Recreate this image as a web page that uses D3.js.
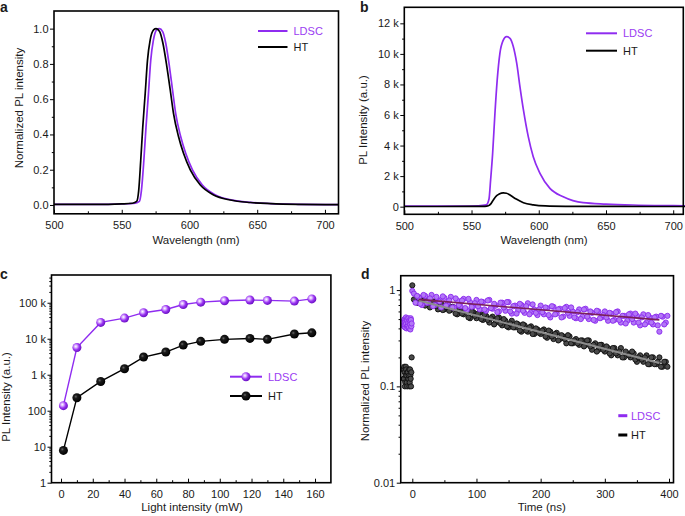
<!DOCTYPE html>
<html>
<head>
<meta charset="utf-8">
<script src="https://cdn.jsdelivr.net/npm/d3@7"></script>
<style>
  body { margin: 0; background: #fff; }
  text { font-family: "Liberation Sans", Arial, sans-serif; fill: #1a1a1a; }
</style>
</head>
<body>
<svg id="fig" width="685" height="516"></svg>
<script>
// ---- panel a: normalized spectra ----
const wlLdscA = [500, 540, 555, 560, 563, 564.5, 566.3, 567.9, 569.7, 571.4, 573.4, 575.8, 577.8, 580.2, 582.5, 585.2, 587.5, 589.8, 593.5, 597.2, 602.2, 609.5, 619.2, 631.5, 645, 660, 680, 710];
const normLdsc = [0.003, 0.004, 0.007, 0.01, 0.02, 0.08, 0.25, 0.44, 0.63, 0.82, 0.936, 0.993, 1.0, 0.983, 0.917, 0.785, 0.652, 0.52, 0.388, 0.293, 0.199, 0.113, 0.057, 0.028, 0.015, 0.008, 0.004, 0.002];
const wlHtA = [500, 540, 550, 558, 561, 562.5, 564, 565.5, 567.3, 569, 571, 573.5, 575.4, 578, 580.4, 583.3, 585.8, 588.2, 591.9, 595.6, 600.6, 608, 617.8, 630, 645, 660, 680, 710];
const normHt = [0.003, 0.004, 0.006, 0.01, 0.02, 0.08, 0.25, 0.44, 0.63, 0.82, 0.936, 0.993, 1.0, 0.983, 0.917, 0.785, 0.652, 0.52, 0.388, 0.293, 0.199, 0.113, 0.057, 0.028, 0.014, 0.008, 0.004, 0.002];

// ---- panel b: raw spectra ----
const wlLdscB = [500, 540, 555, 561, 563, 564.2, 565.7, 567.4, 569.1, 571.1, 573.6, 576, 578.6, 581, 583.6, 586, 588.6, 592.2, 595.9, 600.9, 608.3, 618.2, 633, 650, 670, 700, 710];
const plLdsc = [30, 40, 60, 120, 500, 1750, 3490, 6100, 8300, 10040, 10900, 11130, 11020, 10500, 9390, 7860, 6330, 4580, 3270, 2180, 1200, 650, 260, 170, 110, 70, 60];
const wlHtB = [500, 550, 560, 562.5, 564.5, 566.2, 568.7, 570.6, 573.6, 576, 578.6, 581, 583.6, 588.6, 595.9, 605, 620, 650, 710];
const plHt = [10, 15, 25, 60, 200, 440, 720, 830, 900, 880, 760, 620, 480, 260, 120, 50, 25, 15, 10];

// ---- panel c: power dependence ----
const power = [1.5, 10, 25, 40, 52, 66, 77, 88, 103, 119, 130, 147, 158];
const powLdsc = [138, 5700, 28400, 37500, 52900, 65000, 89600, 104000, 114000, 119000, 116000, 111000, 128000];
const powHt = [7.9, 230, 650, 1470, 3100, 4270, 6650, 8450, 9600, 10200, 9600, 13500, 14600];

// ---- panel d: decay ----
const tPre = [-14, -13.5, -13, -12.5, -12, -11.5, -11, -10.5, -10, -9.5, -9, -8.5, -8, -7.5, -7, -6.5, -6, -5.5, -5, -4.5, -4, -3.5, -3, -2.5, -2, -1.5, -1];
const ldscPre = [0.47, 0.43, 0.42, 0.49, 0.50, 0.41, 0.44, 0.47, 0.52, 0.45, 0.40, 0.50, 0.48, 0.42, 0.43, 0.46, 0.51, 0.40, 0.41, 0.48, 0.46, 0.44, 0.39, 0.51, 0.49, 0.42, 0.45];
const htPre = [0.15, 0.12, 0.12, 0.16, 0.14, 0.10, 0.11, 0.13, 0.16, 0.15, 0.13, 0.11, 0.10, 0.14, 0.14, 0.12, 0.12, 0.13, 0.15, 0.10, 0.11, 0.15, 0.13, 0.12, 0.10, 0.14, 0.20];
const tMain = [0, 5, 10, 15, 20, 25, 30, 35, 40, 45, 50, 55, 60, 65, 70, 75, 80, 85, 90, 95,
  100, 105, 110, 115, 120, 125, 130, 135, 140, 145, 150, 155, 160, 165, 170, 175, 180, 185, 190, 195,
  200, 205, 210, 215, 220, 225, 230, 235, 240, 245, 250, 255, 260, 265, 270, 275, 280, 285, 290, 295,
  300, 305, 310, 315, 320, 325, 330, 335, 340, 345, 350, 355, 360, 365, 370, 375, 380, 385, 390, 395];
const ldscMain = [0.98, 0.74, 0.84, 0.70, 0.87, 0.74, 0.89, 0.70, 0.79, 0.66,
  0.83, 0.73, 0.85, 0.66, 0.78, 0.68, 0.81, 0.62, 0.75, 0.68,
  0.79, 0.63, 0.75, 0.61, 0.79, 0.64, 0.69, 0.60, 0.74, 0.61,
  0.75, 0.57, 0.69, 0.62, 0.70, 0.58, 0.73, 0.59, 0.63, 0.55,
  0.69, 0.56, 0.65, 0.52, 0.67, 0.57, 0.64, 0.53, 0.67, 0.54,
  0.60, 0.51, 0.63, 0.53, 0.64, 0.50, 0.58, 0.48, 0.60, 0.52,
  0.60, 0.48, 0.57, 0.49, 0.60, 0.46, 0.54, 0.48, 0.57, 0.46,
  0.54, 0.43, 0.56, 0.46, 0.52, 0.44, 0.53, 0.37, 0.53, 0.46];
const htMain = [1.12, 0.78, 0.74, 0.83, 0.69, 0.76, 0.69, 0.76, 0.63, 0.72,
  0.63, 0.72, 0.62, 0.66, 0.56, 0.65, 0.56, 0.60, 0.51, 0.59,
  0.51, 0.58, 0.49, 0.54, 0.46, 0.53, 0.46, 0.52, 0.43, 0.48,
  0.41, 0.48, 0.41, 0.44, 0.37, 0.43, 0.37, 0.42, 0.35, 0.39,
  0.35, 0.39, 0.32, 0.37, 0.31, 0.36, 0.31, 0.33, 0.28, 0.33,
  0.28, 0.31, 0.27, 0.30, 0.27, 0.30, 0.24, 0.28, 0.24, 0.27,
  0.23, 0.25, 0.21, 0.25, 0.21, 0.25, 0.20, 0.22, 0.20, 0.22,
  0.18, 0.21, 0.18, 0.21, 0.17, 0.20, 0.17, 0.20, 0.16, 0.18];
const tHalf = [2.5, 7.5, 12.5, 17.5, 22.5, 27.5, 32.5, 37.5, 42.5, 47.5, 52.5, 57.5, 62.5, 67.5, 72.5, 77.5, 82.5, 87.5, 92.5, 97.5,
  102.5, 107.5, 112.5, 117.5, 122.5, 127.5, 132.5, 137.5, 142.5, 147.5, 152.5, 157.5, 162.5, 167.5, 172.5, 177.5, 182.5, 187.5, 192.5, 197.5,
  202.5, 207.5, 212.5, 217.5, 222.5, 227.5, 232.5, 237.5, 242.5, 247.5, 252.5, 257.5, 262.5, 267.5, 272.5, 277.5, 282.5, 287.5, 292.5, 297.5,
  302.5, 307.5, 312.5, 317.5, 322.5, 327.5, 332.5, 337.5, 342.5, 347.5, 352.5, 357.5, 362.5, 367.5, 372.5, 377.5, 382.5, 387.5, 392.5, 397.5];
const ldscHalf = [0.92, 0.87, 0.72, 0.89, 0.74, 0.82, 0.68, 0.85, 0.76, 0.86,
  0.69, 0.78, 0.66, 0.82, 0.70, 0.78, 0.65, 0.81, 0.67, 0.73,
  0.68, 0.76, 0.63, 0.78, 0.65, 0.72, 0.59, 0.74, 0.66, 0.75,
  0.60, 0.68, 0.57, 0.72, 0.61, 0.68, 0.56, 0.71, 0.58, 0.63,
  0.59, 0.66, 0.55, 0.68, 0.56, 0.63, 0.52, 0.65, 0.58, 0.66,
  0.52, 0.59, 0.50, 0.63, 0.53, 0.60, 0.49, 0.61, 0.51, 0.55,
  0.52, 0.58, 0.48, 0.59, 0.49, 0.54, 0.45, 0.56, 0.50, 0.57,
  0.46, 0.52, 0.44, 0.55, 0.46, 0.52, 0.43, 0.54, 0.44, 0.54];
const htHalf = [0.80, 0.74, 0.83, 0.73, 0.77, 0.66, 0.76, 0.68, 0.75, 0.62,
  0.67, 0.61, 0.67, 0.57, 0.66, 0.57, 0.61, 0.52, 0.60, 0.54,
  0.57, 0.50, 0.56, 0.49, 0.51, 0.44, 0.51, 0.45, 0.50, 0.42,
  0.45, 0.41, 0.45, 0.38, 0.44, 0.38, 0.41, 0.35, 0.40, 0.36,
  0.38, 0.33, 0.38, 0.33, 0.35, 0.30, 0.34, 0.31, 0.34, 0.28,
  0.30, 0.28, 0.30, 0.26, 0.30, 0.26, 0.27, 0.23, 0.27, 0.24,
  0.26, 0.22, 0.25, 0.22, 0.23, 0.20, 0.23, 0.21, 0.23, 0.19,
  0.20, 0.19, 0.20, 0.17, 0.20, 0.17, 0.18, 0.16, 0.18, 0.16];
const fitT = [10, 385];
const ldscFit = [0.80, 0.49];
const htFit = [0.78, 0.175];

const PURPLE = "#8f2cf0";
const PURPLE_TXT = "#9a3cf2";

const svg = d3.select("#fig");

// box around a plot area
function frame(x, y) {
  const [x0, x1] = x.range(), [yb, yt] = y.range();
  svg.append("rect")
    .attr("x", x0).attr("y", yt).attr("width", x1 - x0).attr("height", yb - yt)
    .attr("fill", "none").attr("stroke", "#000").attr("stroke-width", 1.6);
}

function styleAxis(g) {
  g.select(".domain").remove();
  g.selectAll("line").attr("stroke", "#000").attr("stroke-width", 1);
  g.selectAll("text").attr("font-size", 11).attr("fill", "#1a1a1a")
    .attr("font-family", "Liberation Sans, Arial, sans-serif");
}

function xAxis(x, y, majors, minors, fmt) {
  const yb = y.range()[0];
  svg.append("g").attr("transform", `translate(0,${yb})`)
    .call(d3.axisBottom(x).tickValues(minors).tickSize(-2.5).tickFormat(""))
    .call(styleAxis);
  svg.append("g").attr("transform", `translate(0,${yb})`)
    .call(d3.axisBottom(x).tickValues(majors).tickSize(-4).tickPadding(7.5).tickFormat(fmt))
    .call(styleAxis);
}

function yAxis(x, y, majors, minors, fmt) {
  const xl = x.range()[0];
  svg.append("g").attr("transform", `translate(${xl},0)`)
    .call(d3.axisLeft(y).tickValues(minors).tickSize(2.2).tickFormat(""))
    .call(styleAxis);
  svg.append("g").attr("transform", `translate(${xl},0)`)
    .call(d3.axisLeft(y).tickValues(majors).tickSize(4).tickPadding(1.5).tickFormat(fmt))
    .call(styleAxis);
}

function label(txt, x, y, rot) {
  svg.append("text")
    .attr("transform", `translate(${x},${y})` + (rot ? " rotate(-90)" : ""))
    .attr("text-anchor", "middle").attr("dy", rot ? "0.35em" : 0)
    .attr("font-size", 11.5).text(txt);
}

function letter(txt, x, y) {
  svg.append("text").attr("x", x).attr("y", y).attr("font-size", 14)
    .attr("font-weight", "bold").attr("fill", "#000").text(txt);
}

function lineLegend(x0, x1, y, color, txt, txtColor) {
  svg.append("line").attr("x1", x0).attr("x2", x1).attr("y1", y).attr("y2", y)
    .attr("stroke", color).attr("stroke-width", 2);
  svg.append("text").attr("x", x1 + 6).attr("y", y).attr("dy", "0.35em")
    .attr("font-size", 11).style("fill", txtColor).text(txt);
}

// ================= panel a =================
{
  const x = d3.scaleLinear().domain([500, 710]).range([54, 338.5]);
  const y = d3.scaleLinear().domain([-0.05, 1.1]).range([213.8, 11]);
  const line = d3.line().x(d => x(d[0])).y(d => y(d[1])).curve(d3.curveMonotoneX);
  svg.append("path").datum(d3.zip(wlLdscA, normLdsc)).attr("d", line)
    .attr("fill", "none").attr("stroke", PURPLE).attr("stroke-width", 1.7);
  svg.append("path").datum(d3.zip(wlHtA, normHt)).attr("d", line)
    .attr("fill", "none").attr("stroke", "#000").attr("stroke-width", 1.7);
  frame(x, y);
  xAxis(x, y, [500, 550, 600, 650, 700], [525, 575, 625, 675], d3.format("d"));
  yAxis(x, y, [0, 0.2, 0.4, 0.6, 0.8, 1.0], [0.1, 0.3, 0.5, 0.7, 0.9], d3.format(".1f"));
  label("Wavelength (nm)", 196, 244, false);
  label("Normalized PL intensity", 19, 108, true);
  letter("a", 0, 12);
  lineLegend(258, 287.5, 31, PURPLE, "LDSC", PURPLE_TXT);
  lineLegend(258, 287.5, 47, "#000", "HT", "#1a1a1a");
}

// ================= panel b =================
{
  const x = d3.scaleLinear().domain([500, 707.5]).range([404.3, 683.3]);
  const y = d3.scaleLinear().domain([-500, 13050]).range([214.3, 7.3]);
  const line = d3.line().x(d => x(d[0])).y(d => y(d[1])).curve(d3.curveMonotoneX);
  svg.append("path").datum(d3.zip(wlLdscB, plLdsc)).attr("d", line)
    .attr("fill", "none").attr("stroke", PURPLE).attr("stroke-width", 1.7);
  svg.append("path").datum(d3.zip(wlHtB, plHt)).attr("d", line)
    .attr("fill", "none").attr("stroke", "#000").attr("stroke-width", 1.7);
  frame(x, y);
  xAxis(x, y, [500, 550, 600, 650, 700], [525, 575, 625, 675], d3.format("d"));
  yAxis(x, y, [0, 2000, 4000, 6000, 8000, 10000, 12000], [1000, 3000, 5000, 7000, 9000, 11000],
    d => d === 0 ? "0" : (d / 1000) + " k");
  label("Wavelength (nm)", 544, 244, false);
  label("PL Intensity (a.u.)", 363, 120, true);
  letter("b", 360, 12);
  lineLegend(586, 617, 33.3, PURPLE, "LDSC", PURPLE_TXT);
  lineLegend(586, 617, 50.7, "#000", "HT", "#1a1a1a");
}

// sphere gradients for panel c
const defs = svg.append("defs");
function sphere(id, stops) {
  const g = defs.append("radialGradient").attr("id", id)
    .attr("cx", "38%").attr("cy", "38%").attr("r", "62%");
  stops.forEach(s => g.append("stop").attr("offset", s[0]).attr("stop-color", s[1]));
}
sphere("gPur", [["0%", "#ffffff"], ["25%", "#dcb4ff"], ["60%", "#9a35f2"], ["100%", "#6c12c4"]]);
sphere("gBlk", [["0%", "#6a6a6a"], ["30%", "#1c1c1c"], ["100%", "#000000"]]);

// ================= panel c =================
{
  const x = d3.scaleLinear().domain([-6, 170]).range([51.5, 330.9]);
  const y = d3.scaleLog().domain([1, 5.9e5]).range([482.7, 275]);
  const line = d3.line().x(d => x(d[0])).y(d => y(d[1]));
  const series = [
    { v: powHt, c: "#000", f: "url(#gBlk)" },
    { v: powLdsc, c: PURPLE, f: "url(#gPur)" }
  ];
  series.forEach(s => {
    const pts = d3.zip(power, s.v);
    svg.append("path").datum(pts).attr("d", line)
      .attr("fill", "none").attr("stroke", s.c).attr("stroke-width", 1.4);
    svg.append("g").selectAll("circle").data(pts).join("circle")
      .attr("cx", d => x(d[0])).attr("cy", d => y(d[1])).attr("r", 4.5)
      .attr("fill", s.f);
  });
  frame(x, y);
  xAxis(x, y, [0, 20, 40, 60, 80, 100, 120, 140, 160], [10, 30, 50, 70, 90, 110, 130, 150], d3.format("d"));
  const decades = [1, 10, 100, 1000, 10000, 100000];
  const minors = [];
  decades.forEach(d => { for (let k = 2; k <= 9; k++) if (d * k < 5.9e5) minors.push(d * k); });
  yAxis(x, y, decades, minors, d => d >= 1000 ? (d / 1000) + " k" : String(d));
  label("Light intensity (mW)", 192, 511, false);
  label("PL Intensity (a.u.)", 6, 397, true);
  letter("c", 0, 279);
  lineLegend(230, 262, 376.7, PURPLE, "LDSC", PURPLE_TXT);
  svg.append("circle").attr("cx", 246).attr("cy", 376.7).attr("r", 4.5).attr("fill", "url(#gPur)");
  lineLegend(230, 262, 396, "#000", "HT", "#1a1a1a");
  svg.append("circle").attr("cx", 246).attr("cy", 396).attr("r", 4.5).attr("fill", "url(#gBlk)");
}

// ================= panel d =================
{
  const x = d3.scaleLinear().domain([-18, 407]).range([400.75, 673.5]);
  const y = d3.scaleLog().domain([0.01, 1.41]).range([482.7, 275.7]);
  const clip = defs.append("clipPath").attr("id", "clipD");
  clip.append("rect").attr("x", 400.75).attr("y", 275.7).attr("width", 272.75).attr("height", 207);
  const plot = svg.append("g").attr("clip-path", "url(#clipD)");
  const htPts = d3.zip(tPre.concat(tMain, tHalf), htPre.concat(htMain, htHalf));
  const ldPts = d3.zip(tPre.concat(tMain, tHalf), ldscPre.concat(ldscMain, ldscHalf));
  plot.append("g").selectAll("circle").data(htPts).join("circle")
    .attr("cx", d => x(d[0])).attr("cy", d => y(d[1])).attr("r", 2.6)
    .attr("fill", "#4a4a4a").attr("stroke", "#0d0d0d").attr("stroke-width", 0.9);
  plot.append("g").selectAll("circle").data(ldPts).join("circle")
    .attr("cx", d => x(d[0])).attr("cy", d => y(d[1])).attr("r", 2.6)
    .attr("fill", "#b277f6").attr("stroke", "#8a28ee").attr("stroke-width", 0.9);
  const fl = d3.line().x(d => x(d[0])).y(d => y(d[1]));
  plot.append("path").datum(d3.zip(fitT, htFit)).attr("d", fl)
    .attr("fill", "none").attr("stroke", "#8c8c8c").attr("stroke-width", 2);
  plot.append("path").datum(d3.zip(fitT, ldscFit)).attr("d", fl)
    .attr("fill", "none").attr("stroke", "#7a1f5c").attr("stroke-width", 1.6);
  frame(x, y);
  xAxis(x, y, [0, 100, 200, 300, 400], [50, 150, 250, 350], d3.format("d"));
  const minors = [];
  [0.01, 0.1].forEach(d => { for (let k = 2; k <= 9; k++) minors.push(d * k); });
  yAxis(x, y, [0.01, 0.1, 1], minors, d => String(d));
  label("Time (ns)", 541.7, 511, false);
  label("Normalized PL intensity", 364.5, 381, true);
  letter("d", 361, 279);
  svg.append("line").attr("x1", 618.3).attr("x2", 627.3).attr("y1", 415.7).attr("y2", 415.7)
    .attr("stroke", PURPLE).attr("stroke-width", 3);
  svg.append("text").attr("x", 631).attr("y", 415.7).attr("dy", "0.35em")
    .attr("font-size", 11).style("fill", PURPLE_TXT).text("LDSC");
  svg.append("line").attr("x1", 618.3).attr("x2", 627.3).attr("y1", 435).attr("y2", 435)
    .attr("stroke", "#000").attr("stroke-width", 3);
  svg.append("text").attr("x", 631).attr("y", 435).attr("dy", "0.35em")
    .attr("font-size", 11).text("HT");
}
</script>
</body>
</html>
